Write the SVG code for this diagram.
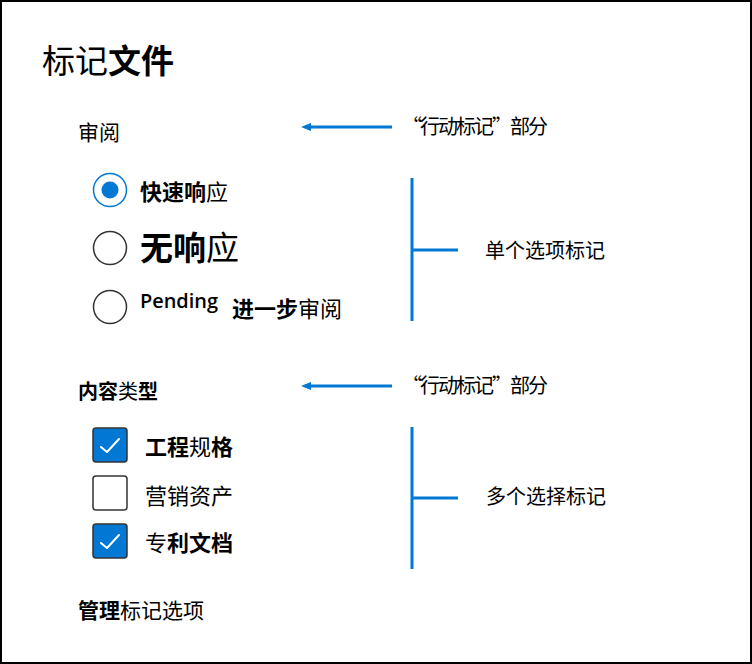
<svg xmlns="http://www.w3.org/2000/svg" width="752" height="664" viewBox="0 0 752 664">
<style>
text{font-family:"Noto Sans CJK SC","Noto Sans",sans-serif;fill:#000}
.b{font-weight:700}
.n{font-weight:400}
.lead{stroke:#0078D4;stroke-width:3;fill:none}
.radio{fill:#fff;stroke:#333;stroke-width:1.5}
.box{stroke:#333;stroke-width:1.5}
.chk{fill:none;stroke:#fff;stroke-width:2;stroke-linecap:round;stroke-linejoin:round}
.note{font-size:20px}
</style>
<defs>
<marker id="ah" viewBox="0 0 10 8" refX="6" refY="4" markerWidth="3.4" markerHeight="2.8" orient="auto" markerUnits="strokeWidth">
<path d="M0,0 L10,4 L0,8 Z" fill="#0078D4"/>
</marker>
</defs>
<rect x="1" y="1" width="750" height="662" fill="#fff" stroke="#000" stroke-width="2"/>

<g id="title"><text x="42" y="73" font-size="33"><tspan class="n">标记</tspan><tspan class="b">文件</tspan></text></g>

<g id="section-review"><text x="78" y="140" font-size="21">审阅</text></g>

<g id="opt-quick">
<circle cx="110" cy="190" r="16.5" fill="#fff" stroke="#0078D4" stroke-width="1.5"/>
<circle cx="110" cy="190" r="8.5" fill="#0078D4"/>
<text x="140" y="200" font-size="22"><tspan class="b">快速响</tspan><tspan class="n">应</tspan></text>
</g>
<g id="opt-none">
<circle class="radio" cx="110" cy="248" r="16.5"/>
<text x="140" y="260" font-size="33"><tspan class="b">无响</tspan><tspan class="n">应</tspan></text>
</g>
<g id="opt-pending">
<circle class="radio" cx="110" cy="307" r="16.5"/>
<text x="140" y="308" font-size="20" style="font-family:'Open Sans','Noto Sans',sans-serif;font-weight:600" textLength="78" lengthAdjust="spacingAndGlyphs">Pending</text>
<text x="232" y="317" font-size="22"><tspan class="b">进一步</tspan><tspan class="n">审阅</tspan></text>
</g>

<g id="section-content"><text x="78" y="399" font-size="20"><tspan class="b">内容</tspan><tspan class="n">类</tspan><tspan class="b">型</tspan></text></g>

<g id="chk-eng">
<rect class="box" x="93" y="428" width="34" height="34" rx="3" fill="#0078D4"/>
<path class="chk" d="M101,447 L107,452 L119,439"/>
<text x="145" y="455" font-size="22"><tspan class="b">工程</tspan><tspan class="n">规</tspan><tspan class="b">格</tspan></text>
</g>
<g id="chk-mkt">
<rect class="box" x="93" y="476" width="34" height="34" rx="3" fill="#fff"/>
<text x="145" y="504" font-size="22">营销资产</text>
</g>
<g id="chk-pat">
<rect class="box" x="93" y="524" width="34" height="34" rx="3" fill="#0078D4"/>
<path class="chk" d="M101,543 L107,548 L119,535"/>
<text x="145" y="551" font-size="22"><tspan class="n">专</tspan><tspan class="b">利文档</tspan></text>
</g>

<g id="manage"><text x="78" y="618" font-size="21"><tspan class="b">管理</tspan><tspan class="n">标记选项</tspan></text></g>

<g id="label-action1"><text class="note" x="402" y="134" textLength="146" lengthAdjust="spacing">“行动标记”部分</text></g>
<g id="label-single"><text class="note" x="485" y="258">单个选项标记</text></g>
<g id="label-action2"><text class="note" x="402" y="393" textLength="146" lengthAdjust="spacing">“行动标记”部分</text></g>
<g id="label-multi"><text class="note" x="486" y="504">多个选择标记</text></g>

<g id="connectors">
<line class="lead" x1="392" y1="127" x2="305" y2="127" marker-end="url(#ah)"/>
<line class="lead" x1="392" y1="386" x2="305" y2="386" marker-end="url(#ah)"/>
<path class="lead" d="M412,178 V321 M412,250 H458"/>
<path class="lead" d="M412,427 V569 M412,498 H458"/>
</g>
</svg>
